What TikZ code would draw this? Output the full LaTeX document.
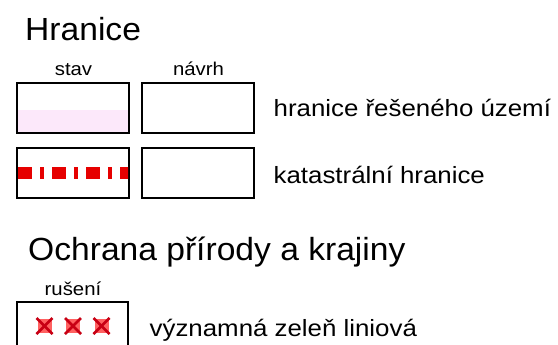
\documentclass[tikz,border=0pt]{standalone}
\usepackage{fontspec}
\usetikzlibrary{calc}
\setmainfont{Liberation Sans}
\definecolor{pinkfill}{RGB}{252,232,250}
\definecolor{katred}{RGB}{230,0,0}
\definecolor{xdark}{RGB}{200,0,20}
\definecolor{xlight}{RGB}{255,70,70}
\newcommand{\sxt}[1]{\scalebox{1.05}[1]{#1}}
\newcommand{\sxl}[1]{\scalebox{1.1}[1]{#1}}
\newcommand{\sxh}[1]{\scalebox{1.1}[1]{#1}}
\begin{document}
\begin{tikzpicture}[x=1pt,y=-1pt,
  box/.style={draw=black,line width=2pt,minimum width=112pt,minimum height=50pt,inner sep=0,outer sep=0},
  title/.style={inner sep=0,anchor=base west,font=\fontsize{32}{34}\selectfont},
  lbl/.style={inner sep=0,anchor=base west,font=\fontsize{23.5}{25}\selectfont},
  head/.style={inner sep=0,anchor=base,font=\fontsize{18.5}{20}\selectfont},
  xmark/.style={draw=xdark,line width=2.8pt}]
\useasboundingbox (0,0) rectangle (558,345);
\fill[white] (0,0) rectangle (558,345);

\node[title] (t1) at (25,41) {\sxt{Hranice}};
\node[head] (hs) at (73.5,76) {\sxh{stav}};
\node[head] (hn) at (198.5,76) {\sxh{návrh}};

% row 1
\fill[pinkfill] (17,110) rectangle (129,133);
\node[box] (b11) at (73,108) {};
\node[box] (b12) at (197.5,108) {};
\node[lbl] (l1) at (273.5,117) {\sxl{hranice řešeného území}};

% row 2
\node[box] (b21) at (73,173) {};
\begin{scope}
\clip (18,148) rectangle (128,198);
\draw[katred,line width=12pt,dash pattern=on 14pt off 8pt on 3.5pt off 8.5pt] (18,173) -- (140,173);
\end{scope}
\node[box] (b22) at (197.5,173) {};
\node[lbl] (l2) at (273.5,183.5) {\sxl{katastrální hranice}};

% section 2
\node[title] (t2) at (28,260) {\sxt{Ochrana přírody a krajiny}};
\node[head] (hr) at (73,295) {\sxh{rušení}};
\node[box,minimum width=111pt,minimum height=56pt] (b31) at (72.5,330) {};
\foreach \cx/\nm in {44.5/x1,73/x2,101.5/x3}{
  \coordinate (\nm) at (\cx,326);
  \fill[xlight,opacity=0.85] ($(\nm)+(-7,-7)$) rectangle ($(\nm)+(7,7)$);
  \draw[xmark] ($(\nm)+(-8,-8)$) -- ($(\nm)+(8,8)$);
  \draw[xmark] ($(\nm)+(-8,8)$) -- ($(\nm)+(8,-8)$);
}
\node[lbl] (l3) at (149.5,336) {\sxl{významná zeleň liniová}};
\end{tikzpicture}
\end{document}
